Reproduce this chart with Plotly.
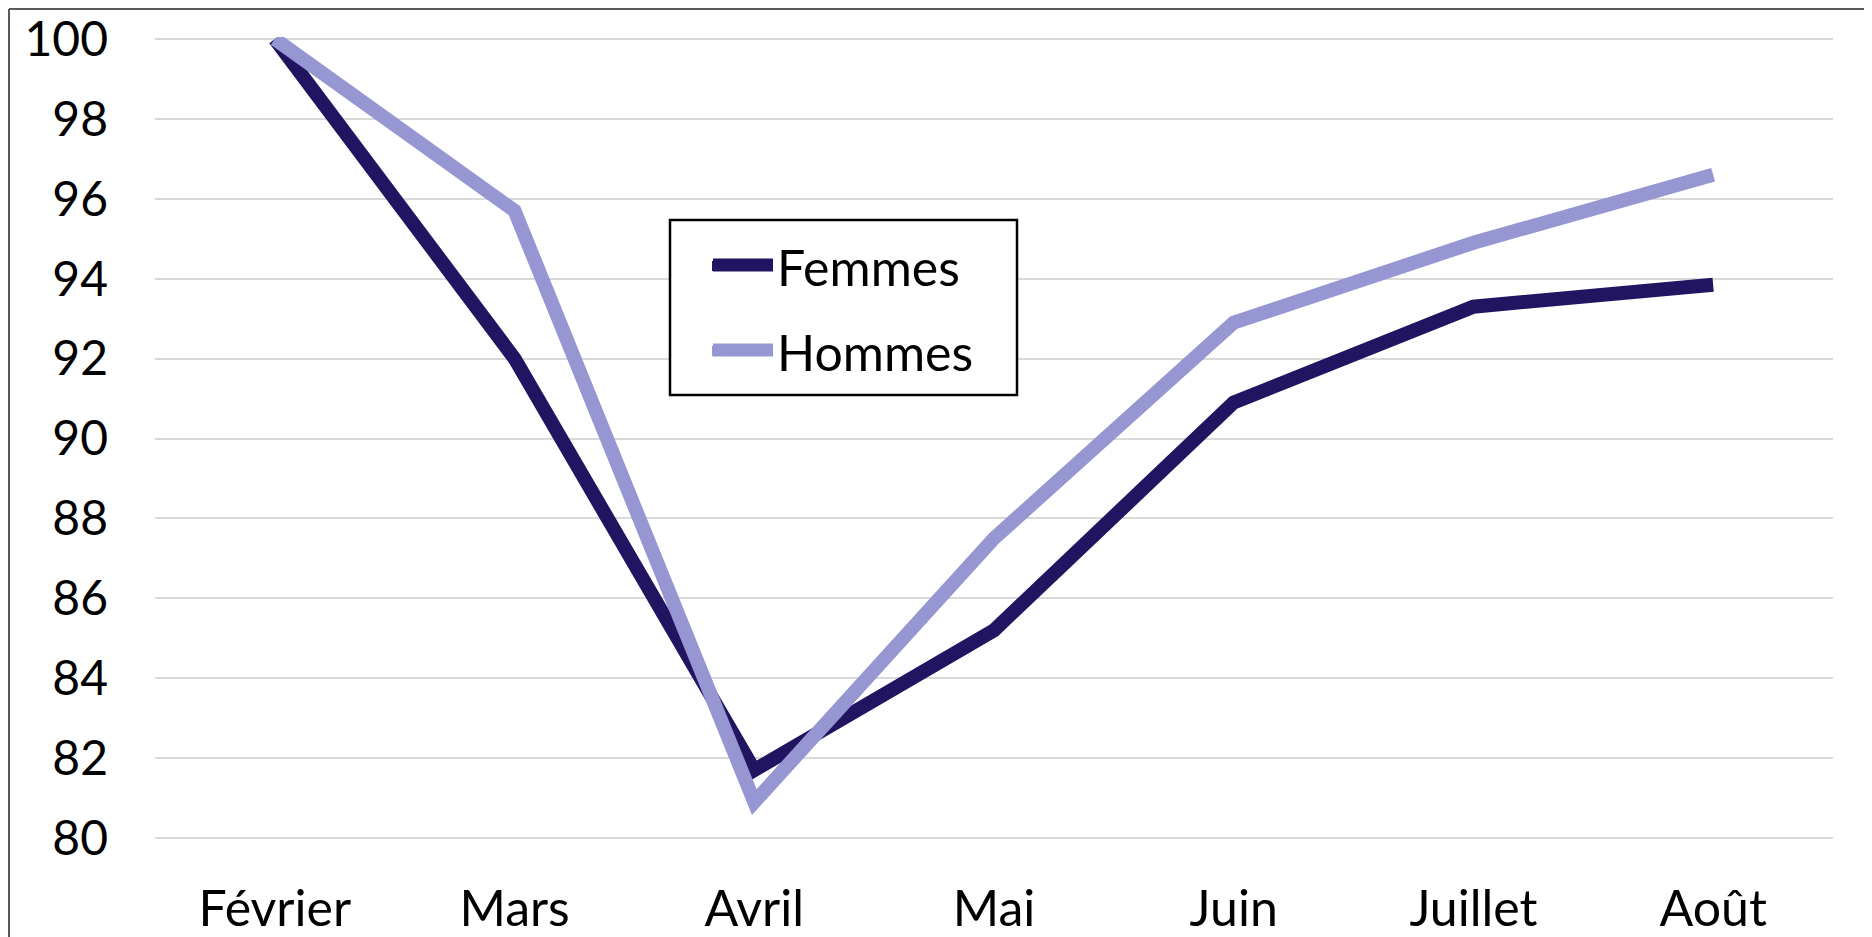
import plotly.graph_objects as go

mois = ['Février', 'Mars', 'Avril', 'Mai', 'Juin', 'Juillet', 'Août']
femmes = [100, 92.0, 81.7, 85.2, 90.9, 93.3, 93.85]
hommes = [100, 95.7, 80.9, 87.5, 92.9, 94.9, 96.6]
y_ticks = list(range(80, 101, 2))

couleur_f = '#211461'
couleur_h = '#9696d3'

# the page adds an 8px body margin, so the figure is a bit smaller
W, H = 1864, 929
ml, mr, mt, mb = 147, 39, 29, 97
pw = W - ml - mr
ph = H - mt - mb


def px_x(p):
    return (p - ml) / pw


def px_y(p):
    return (H - mb - p) / ph


font = 'Lato, Open Sans, sans-serif'

fig = go.Figure()
fig.add_trace(go.Scatter(x=mois, y=femmes, name='Femmes', mode='lines',
                         legendgroup='f',
                         line=dict(color=couleur_f, width=14)))
fig.add_trace(go.Scatter(x=mois, y=hommes, name='Hommes', mode='lines',
                         legendgroup='h',
                         line=dict(color=couleur_h, width=14)))

# legend box and thicker legend keys (plotly caps the key line width)
shapes = [
    dict(type='line', xref='paper', yref='paper',
         x0=px_x(1), x1=px_x(1), y0=px_y(1), y1=px_y(H + 5),
         line=dict(color='#595959', width=2)),
    dict(type='line', xref='paper', yref='paper',
         x0=px_x(1), x1=px_x(W + 5), y0=px_y(1), y1=px_y(1),
         line=dict(color='#595959', width=2)),
    dict(type='rect', xref='paper', yref='paper',
         x0=px_x(662), x1=px_x(1009), y0=px_y(212), y1=px_y(387),
         line=dict(color='black', width=2.5), fillcolor='white',
         layer='above'),
    dict(type='line', xref='paper', yref='paper',
         x0=px_x(705), x1=px_x(765), y0=px_y(257), y1=px_y(257),
         line=dict(color=couleur_f, width=13), layer='above'),
    dict(type='line', xref='paper', yref='paper',
         x0=px_x(705), x1=px_x(765), y0=px_y(342), y1=px_y(342),
         line=dict(color=couleur_h, width=13), layer='above'),
]

fig.update_layout(
    width=W, height=H,
    margin=dict(l=ml, r=mr, t=mt, b=mb, autoexpand=False),
    paper_bgcolor='white', plot_bgcolor='white',
    font=dict(family=font, size=48, color='black'),
    showlegend=True,
    legend=dict(
        x=px_x(699), y=px_y(219), xanchor='left', yanchor='top',
        borderwidth=0, bgcolor='rgba(0,0,0,0)',
        font=dict(size=50), tracegroupgap=17,
        itemwidth=60,
    ),
    xaxis=dict(
        type='category', range=[-0.5, 6.5], showgrid=False,
        showline=False, zeroline=False, ticks='', automargin=False,
        ticklabelstandoff=35, tickfont=dict(size=50),
    ),
    yaxis=dict(
        range=[79.95, 100.05], tickvals=y_ticks, showgrid=True,
        gridcolor='#d9d9d9', gridwidth=2, zeroline=False,
        showline=False, ticks='', ticklabelstandoff=46, automargin=False,
        tickfont=dict(size=48),
    ),
    shapes=shapes,
)

fig.write_html("out.html")
